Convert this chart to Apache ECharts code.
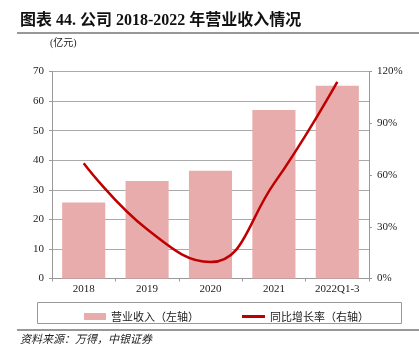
<!DOCTYPE html>
<html><head><meta charset="utf-8">
<script src="https://cdn.jsdelivr.net/npm/echarts@6/dist/echarts.min.js"></script>
<style>html,body{margin:0;padding:0;background:#fff}#c{width:419px;height:362px}</style>
</head><body><div id="c"></div>
<script>
const categories = ['2018', '2019', '2020', '2021', '2022Q1-3'];
const revenue = [25.7, 33.0, 36.4, 57.0, 65.2];
const growth = [66.8, 28.5, 9.5, 55.0, 114.0];
const leftTicks = [0, 70, 10];
const rightTicks = [0, 120, 30];
const title = '图表 44. 公司 2018-2022 年营业收入情况';
const unit = '(亿元)';
const source = '资料来源：万得，中银证券';
const legendNames = ['营业收入（左轴）', '同比增长率（右轴）'];

const serif = 'Liberation Serif, Noto Sans CJK SC';
const legendText = {fontFamily: 'Noto Sans CJK SC', fontSize: 11, color: '#222'};
const chart = echarts.init(document.getElementById('c'), null, {renderer: 'canvas'});
chart.setOption({
  animation: false,
  backgroundColor: '#fff',
  grid: {left: 52, right: 50, top: 71.5, bottom: 83.5},
  xAxis: {
    type: 'category', data: categories,
    axisLine: {lineStyle: {color: '#999'}},
    axisTick: {show: true, length: 3, lineStyle: {color: '#999'}},
    axisLabel: {color: '#222', fontFamily: serif, fontSize: 11, margin: 5}
  },
  yAxis: [{
    type: 'value', min: leftTicks[0], max: leftTicks[1], interval: leftTicks[2],
    axisLine: {show: true, lineStyle: {color: '#999'}},
    axisTick: {show: true, length: 3, lineStyle: {color: '#999'}},
    axisLabel: {color: '#222', fontFamily: serif, fontSize: 11, margin: 8},
    splitLine: {lineStyle: {color: '#aaa'}}
  }, {
    type: 'value', min: rightTicks[0], max: rightTicks[1], interval: rightTicks[2],
    axisLine: {show: true, lineStyle: {color: '#999'}},
    axisTick: {show: true, length: 3, lineStyle: {color: '#999'}},
    axisLabel: {color: '#222', fontFamily: serif, fontSize: 11, margin: 8, formatter: '{value}%'},
    splitLine: {show: false}
  }],
  legend: [{
    left: 79, top: 306, itemWidth: 22, itemHeight: 7, itemGap: 4,
    textStyle: legendText,
    data: [{name: legendNames[0], icon: 'rect'}]
  }, {
    left: 237, top: 306, itemWidth: 23, itemHeight: 3, itemGap: 4,
    textStyle: legendText,
    data: [{name: legendNames[1], icon: 'rect'}]
  }],
  series: [{
    name: legendNames[0], type: 'bar', data: revenue, barCategoryGap: '32%',
    itemStyle: {color: '#E8ACAC'}
  }, {
    name: legendNames[1], type: 'line', yAxisIndex: 1, data: growth, smooth: 0.45,
    symbol: 'none', lineStyle: {color: '#C00000', width: 2.5}, itemStyle: {color: '#C00000'}
  }],
  graphic: [
    {type: 'text', left: 20, top: 13, style: {text: title, font: 'bold 16px ' + serif, fill: '#111'}},
    {type: 'line', shape: {x1: 17, y1: 33, x2: 419, y2: 33}, style: {stroke: '#333', lineWidth: 1.2}},
    {type: 'text', left: 50, top: 38, style: {text: unit, font: '10px ' + serif, fill: '#222'}},
    {type: 'rect', shape: {x: 37.5, y: 302.5, width: 364, height: 21}, style: {fill: 'none', stroke: '#999', lineWidth: 1}},
    {type: 'line', shape: {x1: 17, y1: 330, x2: 419, y2: 330}, style: {stroke: '#333', lineWidth: 1.2}},
    {type: 'text', left: 20, top: 335, style: {text: source, font: 'italic 11px ' + serif, fill: '#222'}}
  ]
});
</script></body></html>
